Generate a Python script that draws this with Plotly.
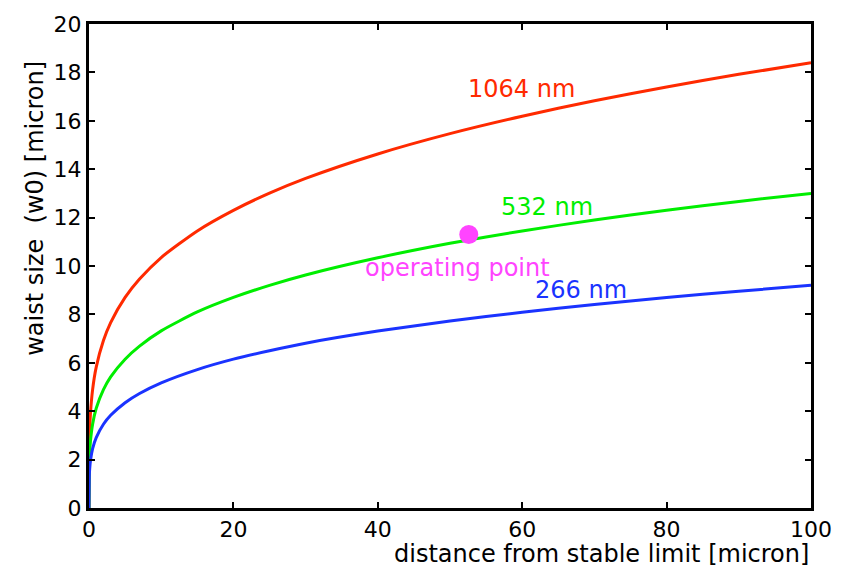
import plotly.graph_objects as go

# distance from stable limit [micron]
distance = [0, 0.05, 0.1, 0.2, 0.5, 1, 2, 3, 5, 7, 10, 15, 20, 25, 30, 40, 50, 60, 70, 80, 90, 100]
# waist size w0 [micron]
w_1064 = [0, 2.75, 3.27, 3.89, 4.89, 5.82, 6.92, 7.66, 8.70, 9.46, 10.35, 11.45, 12.30, 13.01,
          13.62, 14.63, 15.47, 16.19, 16.83, 17.40, 17.92, 18.40]
w_532 = [0, 1.95, 2.31, 2.75, 3.46, 4.12, 4.89, 5.42, 6.15, 6.69, 7.32, 8.10, 8.70, 9.20,
         9.63, 10.34, 10.94, 11.45, 11.90, 12.30, 12.67, 13.00]
w_266 = [0, 1.38, 1.64, 1.95, 2.45, 2.91, 3.46, 3.83, 4.35, 4.73, 5.17, 5.72, 6.15, 6.50,
         6.81, 7.31, 7.73, 8.09, 8.41, 8.70, 8.96, 9.20]

op_x = [52.6]
op_y = [11.3]

x_ticks = [0, 20, 40, 60, 80, 100]
y_ticks = [0, 2, 4, 6, 8, 10, 12, 14, 16, 18, 20]

RED = "#ff2a00"
GREEN = "#00ee00"
BLUE = "#1a33ff"
MAGENTA = "#ff44ff"
FONT = "DejaVu Sans"

fig = go.Figure()
for ys, col in [(w_1064, RED), (w_532, GREEN), (w_266, BLUE)]:
    fig.add_trace(go.Scatter(x=distance, y=ys, mode="lines",
                             line=dict(color=col, width=3, shape="spline", smoothing=0.6),
                             showlegend=False, hoverinfo="skip"))
fig.add_trace(go.Scatter(x=op_x, y=op_y, mode="markers",
                         marker=dict(color=MAGENTA, size=19), showlegend=False))

labels = [("1064 nm", 59.9, 17.3, RED), ("532 nm", 63.5, 12.45, GREEN),
          ("266 nm", 68.1, 9.0, BLUE), ("operating point", 51.0, 9.9, MAGENTA)]
for txt, xx, yy, col in labels:
    fig.add_annotation(x=xx, y=yy, text=txt, showarrow=False,
                       font=dict(family=FONT, size=24, color=col))

fig.add_annotation(xref="paper", yref="paper", x=1.0, y=-0.062, xanchor="right", yanchor="top",
                   text="distance from stable limit [micron]", showarrow=False,
                   font=dict(family=FONT, size=24, color="black"))
fig.add_annotation(xref="paper", yref="paper", x=-0.075, y=0.62, xanchor="center", yanchor="middle",
                   text="waist size&nbsp;&nbsp;(w0) [micron]", textangle=-90, showarrow=False,
                   font=dict(family=FONT, size=24, color="black"))

axis_common = dict(showline=True, linecolor="black", linewidth=3, mirror="ticks",
                   ticks="inside", ticklen=6, tickwidth=2, tickcolor="black",
                   showgrid=False, zeroline=False,
                   tickfont=dict(family=FONT, size=22, color="black"))
fig.update_xaxes(range=[0, 100], tickvals=x_ticks, **axis_common)
fig.update_yaxes(range=[0, 20], tickvals=y_ticks, **axis_common)

fig.update_layout(width=854, height=572, margin=dict(l=89, r=43, t=20, b=64),
                  plot_bgcolor="white", paper_bgcolor="white")

fig.write_html("out.html", config={"displayModeBar": False},
               post_script="document.body.style.margin='0px';")
